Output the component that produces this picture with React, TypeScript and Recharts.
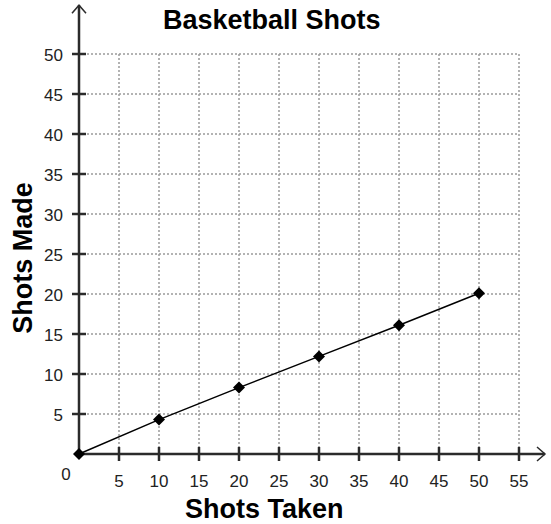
import {
  ComposedChart,
  Line,
  XAxis,
  YAxis,
  CartesianGrid,
  ReferenceLine,
} from "recharts"

const shotsTaken = [0, 10, 20, 30, 40, 50]
const shotsMade = [0, 4.3, 8.3, 12.2, 16.1, 20.1]
const xTicks = [0, 5, 10, 15, 20, 25, 30, 35, 40, 45, 50, 55]
const yTicks = [0, 5, 10, 15, 20, 25, 30, 35, 40, 45, 50]

// where the axis arrows end, in data units
const xArrowEnd = 58.25
const yArrowEnd = 56.1

const data = shotsTaken.map((taken, i) => ({ taken, made: shotsMade[i] }))

const FONT = "'Liberation Sans', Arial, sans-serif"
const AXIS = "#2b2b2b"

function Diamond(props: any) {
  const { cx, cy } = props
  if (cx == null || cy == null) return null
  const s = 6
  return (
    <polygon
      points={`${cx},${cy - s} ${cx + s},${cy} ${cx},${cy + s} ${cx - s},${cy}`}
      fill="#000"
    />
  )
}

function XTick(props: any) {
  const { x, y, payload } = props
  if (payload.value === 0) {
    return (
      <text x={x - 13} y={y + 26} textAnchor="middle" fontSize={17} fontFamily={FONT} fill="#222">
        0
      </text>
    )
  }
  return (
    <g>
      <line x1={x} x2={x} y1={y - 7} y2={y + 7} stroke={AXIS} strokeWidth={2.5} />
      <text x={x} y={y + 33} textAnchor="middle" fontSize={17} fontFamily={FONT} fill="#222">
        {payload.value}
      </text>
    </g>
  )
}

function YTick(props: any) {
  const { x, y, payload } = props
  if (payload.value === 0) return null
  return (
    <g>
      <line x1={x - 7} x2={x + 7} y1={y} y2={y} stroke={AXIS} strokeWidth={2.5} />
      <text x={x - 16} y={y + 7} textAnchor="end" fontSize={17} fontFamily={FONT} fill="#222">
        {payload.value}
      </text>
    </g>
  )
}

function ArrowAxis(props: any) {
  const { x1, y1, x2, y2 } = props
  const horizontal = Math.abs(y2 - y1) < 1
  const head = horizontal
    ? `${x2 - 8},${y2 - 7} ${x2},${y2} ${x2 - 8},${y2 + 7}`
    : `${x2 - 7},${y2 + 8} ${x2},${y2} ${x2 + 7},${y2 + 8}`
  return (
    <g>
      <line x1={x1} y1={y1} x2={x2} y2={y2} stroke={AXIS} strokeWidth={2.5} />
      <polyline points={head} fill="none" stroke={AXIS} strokeWidth={1.5} />
    </g>
  )
}

export default function App() {
  return (
    <div style={{ position: "absolute", left: 0, top: 0, width: 551, height: 524, background: "#fff" }}>
      <ComposedChart
        width={551}
        height={524}
        data={data}
        margin={{ top: 54, right: 32, bottom: 30, left: 19 }}
      >
        <CartesianGrid stroke="#9a9a9a" strokeWidth={1.5} strokeDasharray="2 2" />
        <XAxis
          type="number"
          dataKey="taken"
          domain={[0, 55]}
          ticks={xTicks}
          interval={0}
          height={40}
          axisLine={false}
          tickLine={false}
          tickSize={0}
          tickMargin={0}
          tick={<XTick />}
        />
        <YAxis
          type="number"
          domain={[0, 50]}
          ticks={yTicks}
          interval={0}
          width={60}
          axisLine={false}
          tickLine={false}
          tickSize={0}
          tickMargin={0}
          tick={<YTick />}
        />
        <ReferenceLine
          segment={[{ x: 0, y: 0 }, { x: xArrowEnd, y: 0 }]}
          ifOverflow="visible"
          shape={<ArrowAxis />}
        />
        <ReferenceLine
          segment={[{ x: 0, y: 0 }, { x: 0, y: yArrowEnd }]}
          ifOverflow="visible"
          shape={<ArrowAxis />}
        />
        <Line
          dataKey="made"
          stroke="#000"
          strokeWidth={1.5}
          dot={<Diamond />}
          activeDot={false}
          isAnimationActive={false}
        />
      </ComposedChart>
      <div
        style={{
          position: "absolute",
          left: 0,
          top: 0,
          width: 551,
          textAlign: "center",
          fontFamily: FONT,
          fontWeight: "bold",
          fontSize: 27,
          lineHeight: "40px",
          paddingLeft: 0,
        }}
      >
        <span style={{ position: "absolute", left: 163, top: 0 }}>Basketball Shots</span>
      </div>
      <div
        style={{
          position: "absolute",
          left: 185,
          top: 489,
          fontFamily: FONT,
          fontWeight: "bold",
          fontSize: 27,
          lineHeight: "40px",
          whiteSpace: "nowrap",
        }}
      >
        Shots Taken
      </div>
      <div
        style={{
          position: "absolute",
          left: 23,
          top: 258,
          transform: "translate(-50%, -50%) rotate(-90deg)",
          fontFamily: FONT,
          fontWeight: "bold",
          fontSize: 27,
          lineHeight: "40px",
          whiteSpace: "nowrap",
        }}
      >
        Shots Made
      </div>
    </div>
  )
}
